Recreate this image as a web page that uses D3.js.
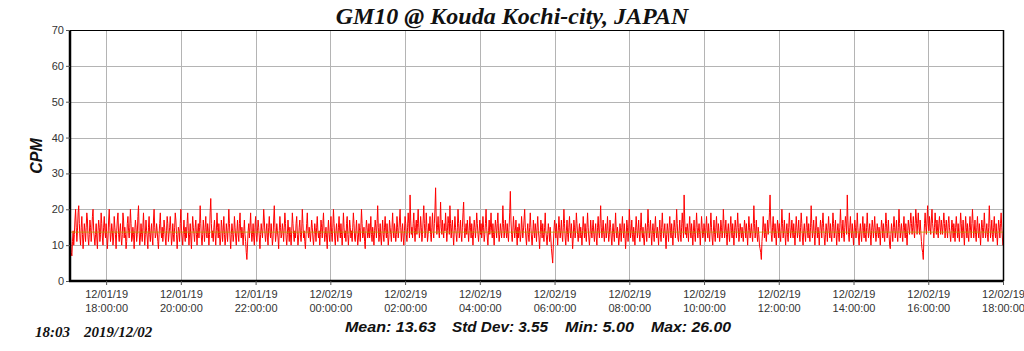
<!DOCTYPE html>
<html><head><meta charset="utf-8">
<script src="https://cdn.jsdelivr.net/npm/d3@7"></script>
<style>body{margin:0;background:#fff;}svg{display:block;}</style>
</head><body>
<svg id="c" width="1024" height="351"></svg>
<script>
const title = "GM10 @ Kouda Kochi-city, JAPAN";
const yLabel = "CPM";
const startTime = "2019-12-01T17:02:00";
const endTime = "2019-12-02T18:00:00";
const stepMinutes = 1;
const yTicks = [0,10,20,30,40,50,60,70];
const xTickTimes = ["2019-12-01T18:00","2019-12-01T20:00","2019-12-01T22:00","2019-12-02T00:00","2019-12-02T02:00","2019-12-02T04:00","2019-12-02T06:00","2019-12-02T08:00","2019-12-02T10:00","2019-12-02T12:00","2019-12-02T14:00","2019-12-02T16:00","2019-12-02T18:00"];
const meanValue = 13.63;
const statsLabels = ["Mean: 13.63","Std Dev: 3.55","Min: 5.00","Max: 26.00"];
const stampTime = "18:03";
const stampDate = "2019/12/02";
const cpm = [
15,12,8,7,11,14,10,13,17,20,15,11,14,19,21,16,12,10,15,18,
13,9,12,16,14,11,15,19,17,12,10,13,17,15,11,14,18,20,14,12,
10,13,16,12,9,14,17,15,11,13,19,16,12,10,15,18,14,12,16,13,
9,12,17,20,15,11,13,16,14,10,12,18,15,13,9,14,17,19,13,11,
14,16,12,10,13,19,17,12,15,13,9,11,16,18,14,12,15,20,16,11,
12,15,13,9,14,17,15,11,13,18,21,14,10,12,16,13,11,15,19,14,
10,13,17,14,12,9,15,18,13,11,14,16,12,10,17,20,15,12,13,16,
14,11,9,13,16,19,14,12,15,11,13,17,15,12,10,14,18,16,11,13,
15,18,14,10,12,16,13,11,15,19,17,13,9,12,15,14,11,16,20,14,
12,10,14,17,13,11,15,12,16,19,14,10,13,16,12,9,14,18,15,13,
11,15,17,13,10,14,16,12,15,21,16,12,10,13,17,14,11,15,18,13,
12,16,14,10,13,19,23,16,12,14,11,15,17,13,10,14,19,15,12,16,
13,10,12,17,15,11,14,18,13,10,12,16,14,11,15,20,16,12,9,13,
16,14,11,13,18,15,12,10,14,17,13,11,16,19,14,12,15,13,10,14,
17,13,11,8,6,10,14,16,12,15,19,14,11,13,16,12,10,15,18,13,
11,14,17,15,12,9,13,16,14,12,15,20,17,13,11,14,16,12,10,15,
18,14,12,16,13,10,12,17,21,15,11,13,16,14,12,9,14,18,15,12,
13,16,14,11,15,19,16,12,10,13,17,14,11,15,13,10,14,19,16,13,
11,14,12,16,18,13,10,12,15,17,13,11,14,20,16,12,14,11,9,13,
16,19,14,12,15,13,11,14,17,15,12,10,13,16,14,11,15,18,14,12,
14,10,13,17,15,12,16,19,14,11,13,15,12,9,14,17,13,11,15,18,
13,11,15,20,16,12,10,14,16,13,11,15,18,14,12,16,13,10,14,19,
15,12,14,11,16,18,13,10,13,17,15,12,14,11,15,19,16,12,11,14,
17,13,10,12,16,14,11,15,20,16,12,13,15,11,9,14,17,15,12,13,
16,12,14,18,13,11,15,13,10,14,17,15,12,16,21,15,11,13,16,12,
10,14,17,13,11,15,18,14,12,16,13,10,12,17,15,13,11,15,19,14,
12,16,14,11,13,18,15,12,14,17,20,15,11,14,16,12,10,14,18,16,
13,11,15,19,16,12,24,17,13,15,12,16,19,14,11,15,17,13,16,20,
15,12,14,18,15,11,13,17,21,16,12,14,19,15,11,13,16,14,18,13,
11,15,19,14,12,16,20,26,17,13,15,18,14,12,16,22,15,13,17,14,
12,16,14,19,15,11,14,18,16,13,21,16,12,15,17,13,10,14,18,15,
13,11,15,20,16,12,14,17,13,11,15,19,22,15,12,14,16,13,17,14,
11,14,18,15,12,16,13,10,14,17,15,12,15,19,16,13,11,14,17,13,
16,12,14,18,15,11,13,16,20,15,12,10,14,17,13,15,19,14,12,16,
13,10,14,17,15,12,16,19,14,11,13,16,14,12,15,21,16,12,14,17,
14,12,16,13,11,15,19,25,17,13,11,14,18,15,12,14,17,13,10,15,
12,16,14,11,13,18,15,12,14,17,20,15,12,10,14,16,13,11,15,19,
15,12,10,13,17,14,12,16,14,11,15,18,14,12,9,13,17,15,12,16,
13,11,15,19,14,12,10,13,16,14,11,15,12,9,7,5,10,14,17,15,
12,16,13,10,14,18,15,12,14,17,13,11,15,20,16,12,10,14,17,13,
11,15,18,14,12,16,13,9,12,17,15,12,14,19,16,13,11,14,16,12,
15,13,10,14,18,15,12,16,13,11,15,19,15,12,10,13,17,14,12,15,
17,13,11,14,16,12,10,15,18,14,12,16,21,15,12,14,17,13,11,14,
16,12,14,18,14,11,13,17,15,12,10,14,16,13,11,15,19,14,12,15,
13,10,12,16,14,11,15,18,14,12,16,13,9,12,17,15,11,14,20,16,
12,14,17,13,11,15,13,10,14,18,15,12,14,17,13,11,15,19,14,12,
15,12,10,13,16,14,11,15,20,16,12,14,17,13,10,14,16,13,11,15,
18,14,12,15,13,10,14,17,13,11,15,19,15,12,14,16,12,9,13,16,
14,11,15,18,14,12,16,13,10,14,17,15,12,15,20,16,12,11,14,17,
13,11,15,19,16,12,24,17,13,15,12,16,14,11,15,18,14,12,16,13,
10,14,17,13,11,15,19,15,12,14,16,13,10,14,18,15,12,13,16,14,
11,15,18,14,12,16,13,11,15,19,15,12,10,14,17,13,11,15,18,14,
12,16,14,11,13,17,15,12,14,20,16,12,14,17,13,10,14,16,13,11,
15,18,14,12,16,13,10,14,17,15,12,15,19,15,11,13,16,14,12,15,
13,11,14,17,15,12,16,13,10,14,18,15,12,14,16,13,11,15,21,16,
12,14,17,13,11,15,13,10,9,8,6,11,14,18,15,12,16,13,11,14,
17,13,15,19,24,17,13,11,15,18,14,12,16,13,10,14,17,15,12,16,
13,11,15,20,16,12,14,17,13,10,14,16,13,11,15,19,15,12,14,17,
14,12,16,13,10,14,18,15,12,14,17,13,11,15,19,16,12,10,14,16,
13,11,15,18,14,12,16,13,11,15,21,16,12,14,17,13,10,14,18,15,
12,15,13,10,14,17,15,12,16,19,15,12,10,13,16,14,11,15,18,14,
12,16,13,11,15,19,16,12,14,17,13,10,14,16,13,11,15,20,16,12,
14,17,13,11,15,18,16,13,24,17,13,11,15,18,14,12,16,13,10,14,
17,15,12,14,19,15,12,10,14,16,13,11,15,18,14,12,16,13,11,15,
19,15,12,14,16,13,10,14,17,15,12,15,18,14,11,13,16,14,12,15,
13,10,14,17,15,12,16,13,11,15,19,16,12,14,17,13,10,9,13,16,
14,11,15,18,15,12,14,17,13,11,15,20,16,12,14,16,13,11,15,18,
14,12,16,13,10,14,17,15,13,16,19,16,13,15,18,14,12,16,20,17,
13,16,19,15,13,17,14,11,9,8,6,12,16,19,15,13,17,21,16,14,
18,15,13,17,20,16,14,12,15,19,16,13,17,14,12,16,18,15,13,17,
15,13,16,19,16,12,15,17,14,12,16,18,15,13,11,14,17,15,12,16,
14,11,15,18,15,12,16,13,11,15,19,16,12,14,17,13,10,14,18,15,
12,16,13,11,15,18,14,12,16,20,16,12,14,17,13,11,15,18,14,12,
16,13,10,14,17,15,12,15,19,15,12,14,16,13,11,15,21,16,12,14,
17,13,11,15,18,14,12,16,13,10,14,17,15,12,16,19,15,12,10,13,
14,16
];

const svg = d3.select("#c");
const L = 70, R = 1003, T = 30, B = 281;
const t0 = new Date(startTime), t1 = new Date(endTime);
const data = cpm.map((v,i)=>({t:new Date(t0.getTime()+i*stepMinutes*60000), v}));
const x = d3.scaleTime().domain([t0,t1]).range([L,R]);
const y = d3.scaleLinear().domain([0,70]).range([B,T]);
const xt = xTickTimes.map(s=>new Date(s));

// grid
svg.append("g").selectAll("line").data(yTicks.slice(1,-1)).join("line")
  .attr("x1",L).attr("x2",R).attr("y1",d=>Math.round(y(d))+0.5).attr("y2",d=>Math.round(y(d))+0.5)
  .attr("stroke","#b4b4b4").attr("stroke-width",1);
svg.append("g").selectAll("line").data(xt.slice(0,-1)).join("line")
  .attr("x1",d=>Math.round(x(d))+0.5).attr("x2",d=>Math.round(x(d))+0.5).attr("y1",T).attr("y2",B)
  .attr("stroke","#b4b4b4").attr("stroke-width",1);

svg.append("defs").append("clipPath").attr("id","clip").append("rect")
  .attr("x",L).attr("y",T).attr("width",R-L).attr("height",B-T);

const line = d3.line().x(d=>x(d.t)).y(d=>y(d.v));
svg.append("path").datum(data).attr("clip-path","url(#clip)")
  .attr("d",line).attr("fill","none").attr("stroke","#ff0000").attr("stroke-width",1)
  .attr("stroke-linejoin","miter").attr("stroke-miterlimit",3);

svg.append("line").attr("x1",L).attr("x2",R).attr("y1",y(meanValue)).attr("y2",y(meanValue))
  .attr("stroke","#b8a800").attr("stroke-width",1).attr("opacity",0.8);

// frame
svg.append("line").attr("x1",L).attr("x2",R).attr("y1",T+0.5).attr("y2",T+0.5).attr("stroke","#000");
svg.append("line").attr("x1",R+0.5).attr("x2",R+0.5).attr("y1",T).attr("y2",B).attr("stroke","#000").attr("stroke-width",1.5);

// axes
const yAxis = d3.axisLeft(y).tickValues(yTicks).tickSize(4).tickPadding(2).tickFormat(d3.format("d"));
const gy = svg.append("g").attr("transform",`translate(${L},0)`).call(yAxis);
gy.select(".domain").attr("stroke","#000").attr("stroke-width",2.5).attr("d",`M0,${T}V${B+1}`);
gy.selectAll(".tick line").attr("stroke","#555");
gy.selectAll("text").attr("font-family","Liberation Sans, Arial").attr("font-size",11).attr("fill","#333");

const fmtD = d3.timeFormat("%m/%d/%y"), fmtT = d3.timeFormat("%H:%M:%S");
const xAxis = d3.axisBottom(x).tickValues(xt).tickSize(4).tickFormat("");
const gx = svg.append("g").attr("transform",`translate(0,${B})`).call(xAxis);
gx.select(".domain").attr("stroke","#000").attr("stroke-width",2.5).attr("d",`M${L-1},0H${R+1}`);
gx.selectAll(".tick line").attr("stroke","#555");
gx.selectAll(".tick").each(function(d){
  const g = d3.select(this);
  const tx = g.append("text").attr("text-anchor","middle").attr("font-family","Liberation Sans, Arial")
    .attr("font-size",11).attr("fill","#333");
  tx.append("tspan").attr("x",0).attr("y",17).text(fmtD(d));
  tx.append("tspan").attr("x",0).attr("y",31).text(fmtT(d));
});

// titles
svg.append("text").attr("x",512).attr("y",24).attr("text-anchor","middle")
  .attr("font-family","Liberation Serif, Times New Roman").attr("font-weight","bold").attr("font-style","italic")
  .attr("font-size",24).attr("fill","#111").text(title);
svg.append("text").attr("transform","translate(42,156) rotate(-90)").attr("text-anchor","middle")
  .attr("font-family","Liberation Sans, Arial").attr("font-weight","bold").attr("font-style","italic")
  .attr("font-size",16).attr("fill","#111").text(yLabel);
svg.append("text").attr("x",35).attr("y",337)
  .attr("font-family","Liberation Serif, Times New Roman").attr("font-weight","bold").attr("font-style","italic")
  .attr("font-size",15).attr("fill","#111").text(stampTime);
svg.append("text").attr("x",84).attr("y",337)
  .attr("font-family","Liberation Serif, Times New Roman").attr("font-weight","bold").attr("font-style","italic")
  .attr("font-size",15).attr("fill","#111").text(stampDate);
const statX = [345,452,565,651], statW = [91,96,69,80];
svg.append("g").selectAll("text").data(statsLabels).join("text")
  .attr("x",(d,i)=>statX[i]).attr("y",332)
  .attr("font-family","Liberation Sans, Arial").attr("font-weight","bold").attr("font-style","italic")
  .attr("font-size",15).attr("fill","#111")
  .attr("textLength",(d,i)=>statW[i]).attr("lengthAdjust","spacingAndGlyphs").text(d=>d);
</script>
</body></html>
